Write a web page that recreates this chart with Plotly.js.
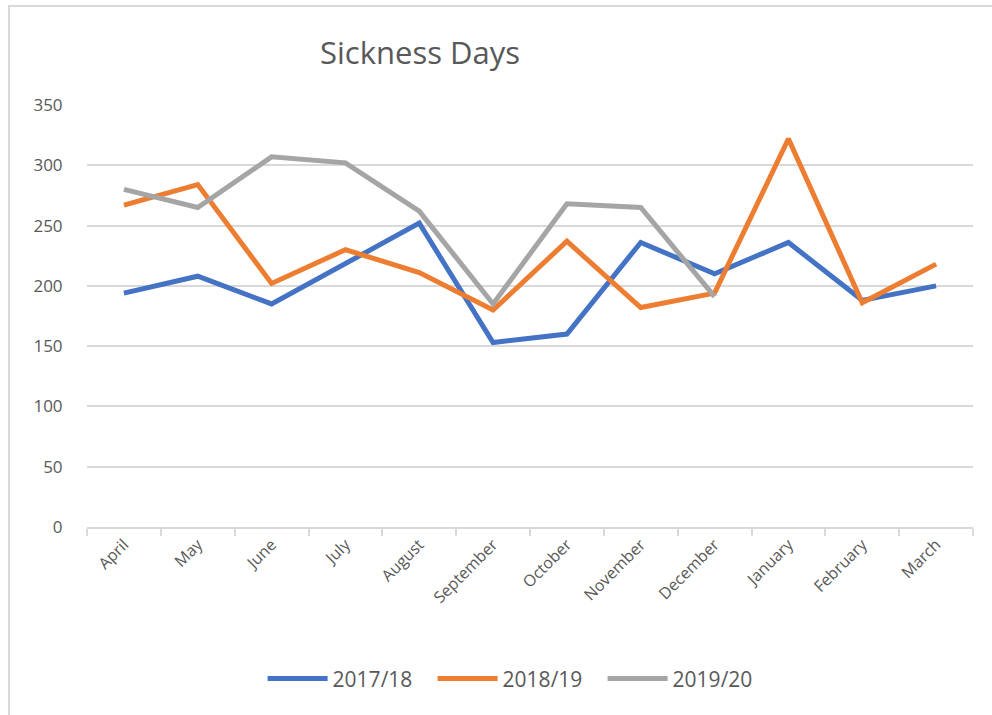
<!DOCTYPE html>
<html>
<head>
<meta charset="utf-8">
<script src="https://cdn.plot.ly/plotly-3.0.1.min.js"></script>
<style>
  html, body { margin: 0; padding: 0; background: #fff; }
  #wrap { position: relative; width: 992px; height: 715px; }
  #chart { width: 992px; height: 715px; }
  #bl { position: absolute; left: 8px; top: 5px; width: 2px; height: 710px; background: #d9d9d9; pointer-events: none; }
  #bt { position: absolute; left: 8px; top: 5px; width: 984px; height: 2px; background: #d9d9d9; pointer-events: none; }
</style>
</head>
<body>
<div id="wrap">
  <div id="chart"></div>
  <div id="bl"></div>
  <div id="bt"></div>
</div>
<script>
const months = ["April","May","June","July","August","September","October","November","December","January","February","March"];
const s2017 = [194, 208, 185, 219, 252, 153, 160, 236, 210, 236, 188, 200];
const s2018 = [267, 284, 202, 230, 211, 180, 237, 182, 194, 322, 186, 218];
const s2019 = [280, 265, 307, 302, 262, 185, 268, 265, 191, null, null, null];
const seriesNames = ["2017/18", "2018/19", "2019/20"];
const colors = ["#4472C4", "#ED7D31", "#A5A5A5"];

const allSeries = [s2017, s2018, s2019];
const traces = allSeries.map((vals, i) => ({
  type: "scatter",
  mode: "lines",
  x: months,
  y: vals,
  name: seriesNames[i],
  line: { color: colors[i], width: 5, shape: "linear" },
  connectgaps: false,
  hoverinfo: "x+y+name"
}));

const fontFam = "'Open Sans', 'DejaVu Sans', sans-serif";
const layout = {
  width: 992,
  height: 715,
  paper_bgcolor: "#ffffff",
  plot_bgcolor: "#ffffff",
  margin: { l: 87, r: 19, t: 105, b: 188 },
  font: { family: fontFam, color: "#595959", size: 16 },
  title: {
    text: "Sickness Days",
    font: { family: fontFam, size: 31, color: "#595959" },
    x: 0.4234, xanchor: "center",
    y: 0.926, yanchor: "middle"
  },
  xaxis: {
    type: "category",
    categoryorder: "array",
    categoryarray: months,
    range: [-0.5, months.length - 0.5],
    showgrid: false,
    showline: true,
    linecolor: "#d9d9d9",
    linewidth: 2,
    ticks: "outside",
    tickson: "boundaries",
    ticklen: 7,
    tickwidth: 2,
    tickcolor: "#d9d9d9",
    tickangle: -45,
    tickfont: { family: fontFam, size: 16, color: "#595959" },
    zeroline: false,
    fixedrange: true
  },
  yaxis: {
    range: [0, 350],
    dtick: 50,
    tick0: 0,
    showgrid: true,
    gridcolor: "#d9d9d9",
    gridwidth: 2,
    zeroline: false,
    showline: false,
    ticks: "outside",
    ticklen: 20,
    tickcolor: "rgba(0,0,0,0)",
    tickfont: { family: fontFam, size: 17, color: "#595959" },
    fixedrange: true
  },
  showlegend: true,
  legend: {
    orientation: "h",
    x: 0.486, xanchor: "center",
    y: -0.36, yanchor: "middle",
    font: { family: fontFam, size: 21, color: "#595959" },
    itemwidth: 60,
    entrywidth: 95,
    traceorder: "normal"
  }
};

Plotly.newPlot("chart", traces, layout, { displayModeBar: false, staticPlot: true });
</script>
</body>
</html>
